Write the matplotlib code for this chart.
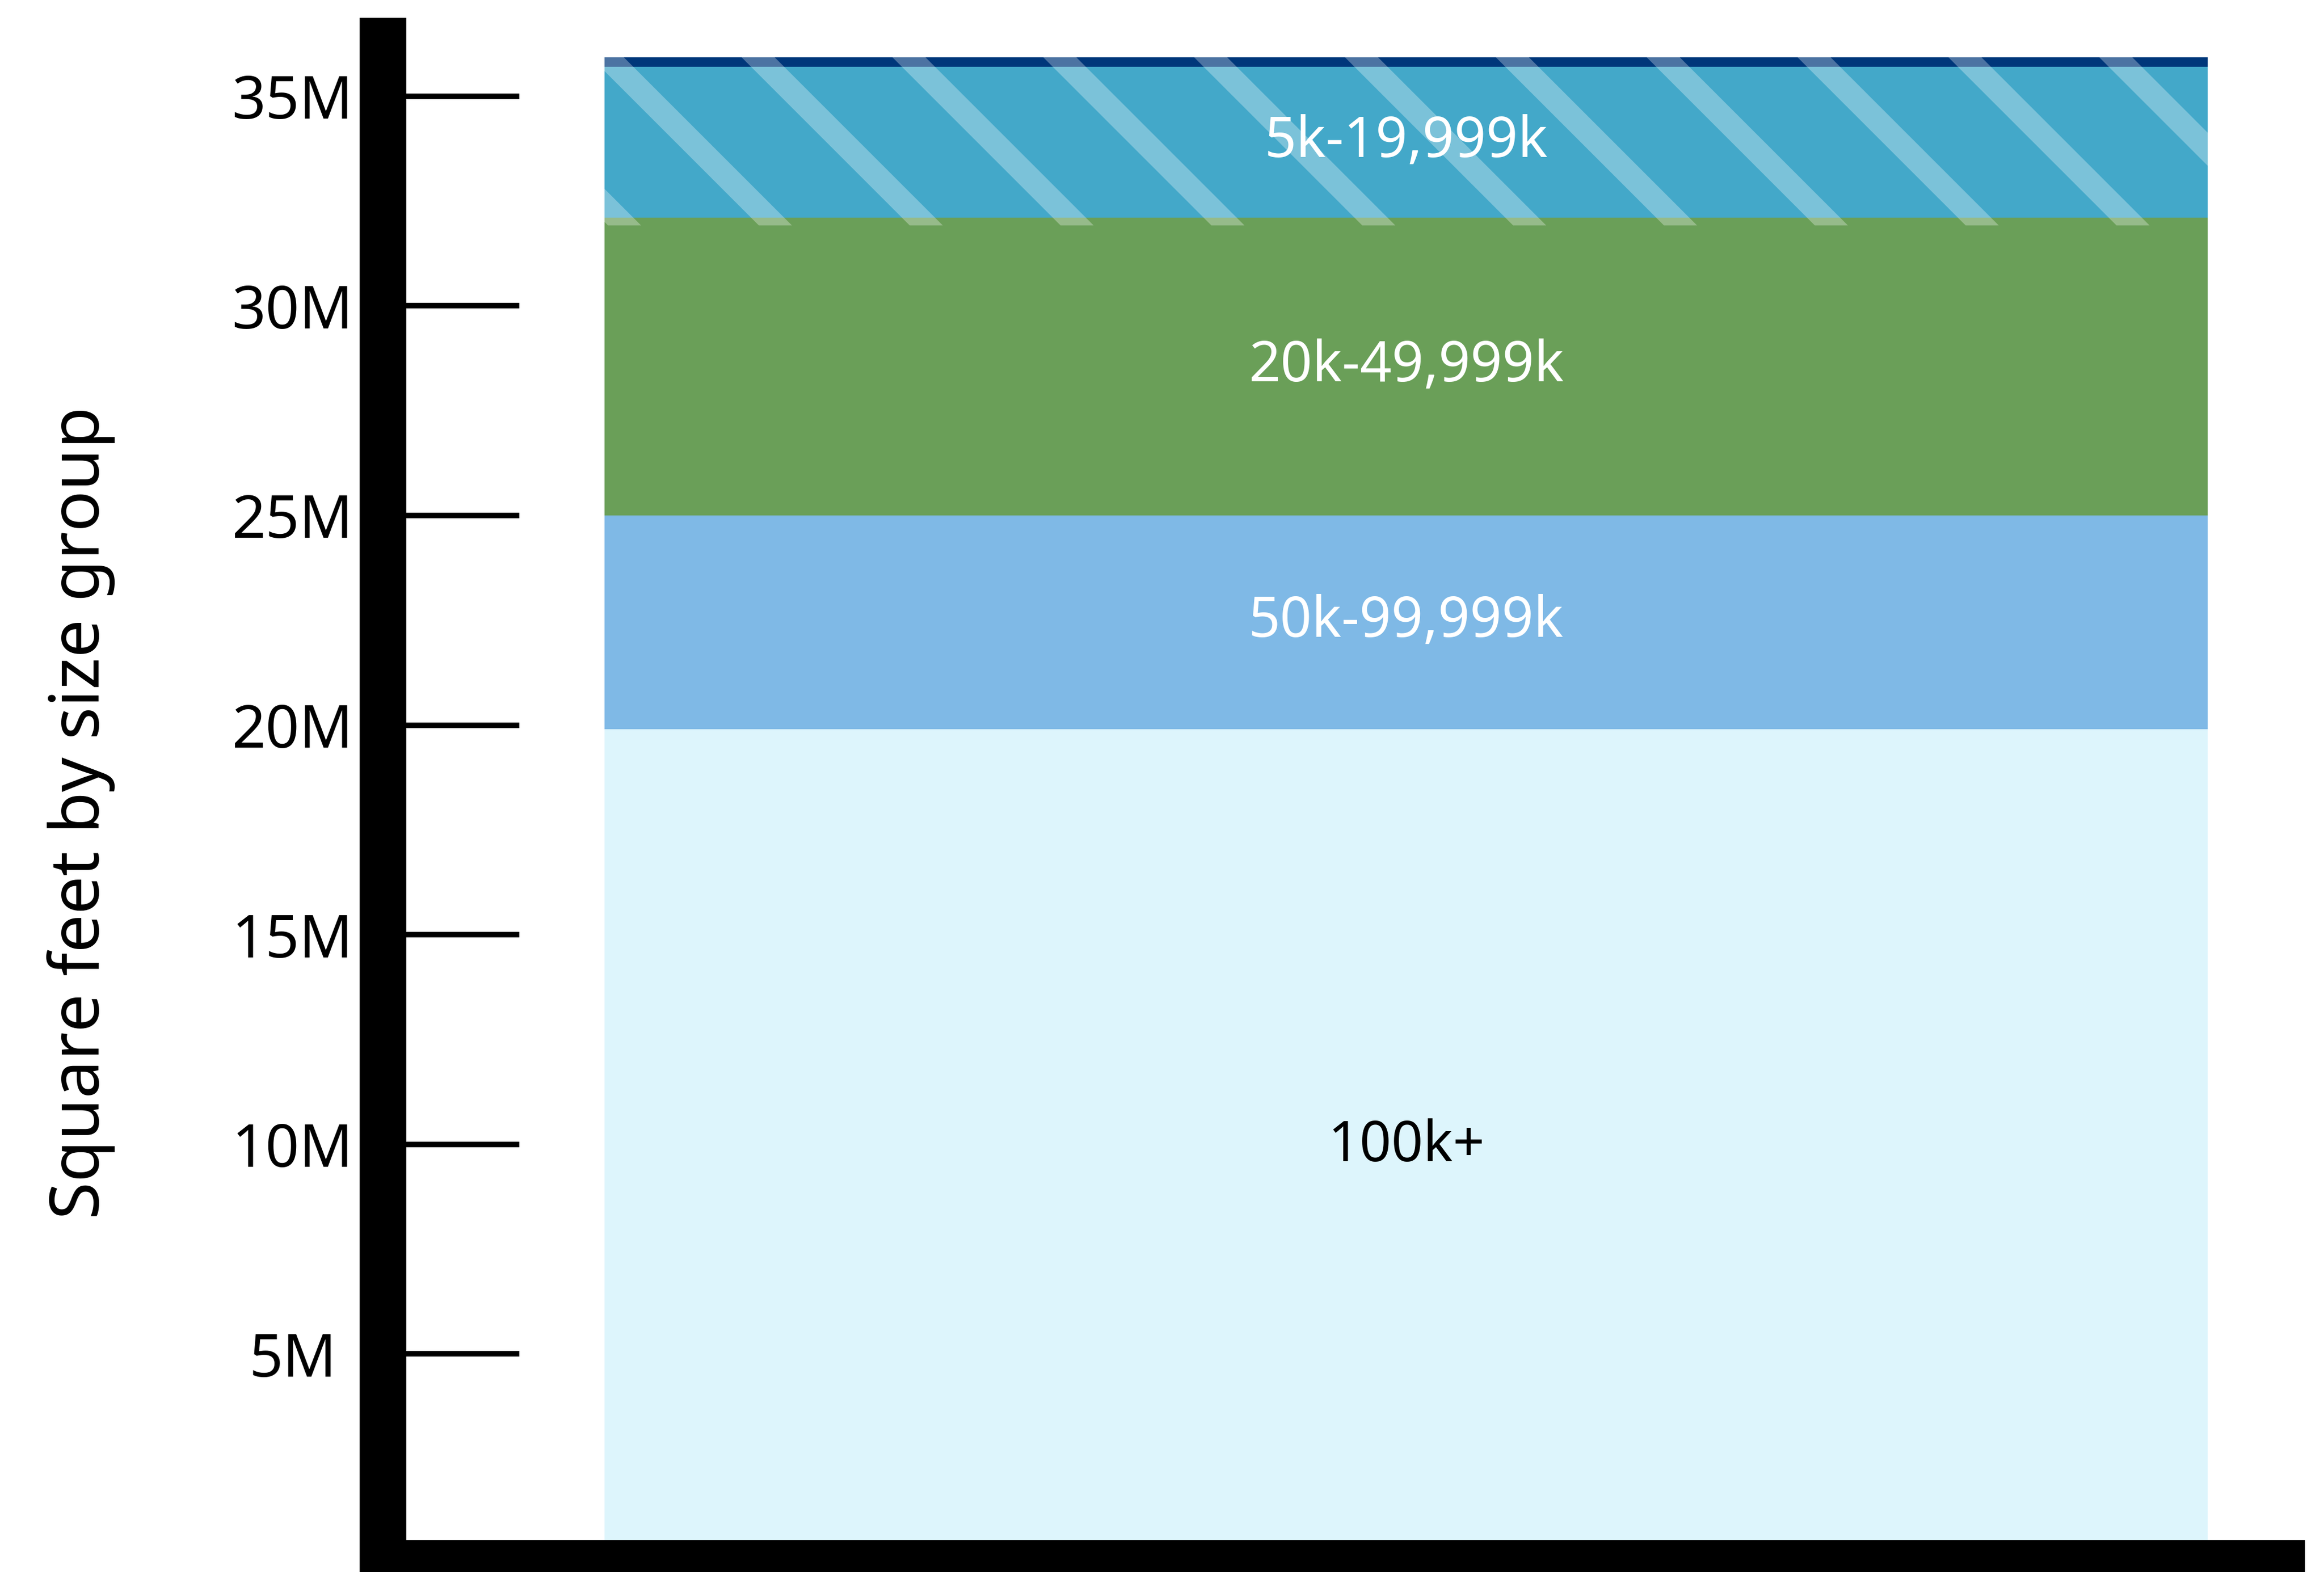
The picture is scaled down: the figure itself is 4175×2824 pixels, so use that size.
import matplotlib
matplotlib.use("Agg")
import matplotlib.pyplot as plt
from matplotlib.lines import Line2D

plt.rcParams["font.family"] = ["Noto Sans", "DejaVu Sans"]

# Stacked segments, bottom to top (millions of square feet)
groups = ["100k+", "50k-99,999k", "20k-49,999k", "5k-19,999k", None]
sqft_m = [19.9, 5.1, 7.1, 3.6, 0.23]
colors = ["#ddf5fc", "#7fb9e6", "#6a9f58", "#43a8c9", "#00377a"]
text_colors = ["black", "white", "white", "white", "white"]
hatched_group = "5k-19,999k"

ticks = [5, 10, 15, 20, 25, 30, 35]
tick_labels = ["5M", "10M", "15M", "20M", "25M", "30M", "35M"]

DPI = 300
W, H = 4175, 2824
fig = plt.figure(figsize=(W / DPI, H / DPI), dpi=DPI)
ax = fig.add_axes([688 / W, 15 / H, (4099 - 688) / W, (2809 - 74) / H])

# stacked bar
bottom = 0
hatch_start = None
for name, val, col, tcol in zip(groups, sqft_m, colors, text_colors):
    ax.bar(0, val, width=0.8, bottom=bottom, color=col, linewidth=0, zorder=1)
    if name == hatched_group:
        hatch_start = bottom
    if name:
        ax.text(0, bottom + val / 2, name, ha="center", va="center",
                color=tcol, fontsize=24, zorder=4)
    bottom += val
total = bottom

# diagonal stripes over the hatched group (and the thin cap above it)
overhang = 0.19
clip = ax.bar(0, total - hatch_start + overhang, width=0.8,
              bottom=hatch_start - overhang, color="none", linewidth=0)[0]
gap = 271 / DPI
offset = 18 / DPI
w_in, h_in = fig.get_size_inches()
k = 0
while offset + k * gap < w_in + h_in + gap:
    c = offset + k * gap
    ln = Line2D([c, c - h_in], [0, h_in], transform=fig.dpi_scale_trans,
                color="white", alpha=0.3, lw=42 / DPI * 72,
                solid_capstyle="butt", zorder=2)
    ax.add_line(ln)
    ln.set_clip_path(clip)
    k += 1

ax.set_xlim(-0.5106, 0.4369)
ax.set_ylim(0, 36.31)
ax.set_xticks([])
ax.set_yticks(ticks, tick_labels)
ax.tick_params(axis="y", direction="in", length=245 / DPI * 72,
               width=10 / DPI * 72, pad=39, labelsize=25.5, color="black")
for lbl in ax.get_yticklabels():
    lbl.set_horizontalalignment("center")

for s in ["top", "right"]:
    ax.spines[s].set_visible(False)
for s in ["left", "bottom"]:
    ax.spines[s].set_linewidth(84 / DPI * 72)
    ax.spines[s].set_capstyle("projecting")
    ax.spines[s].set_zorder(5)

fig.text(146 / W, 1 - 1460 / H, "Square feet by size group", rotation=90,
         ha="center", va="center", fontsize=29.3)

fig.savefig("out.png", dpi=DPI)
